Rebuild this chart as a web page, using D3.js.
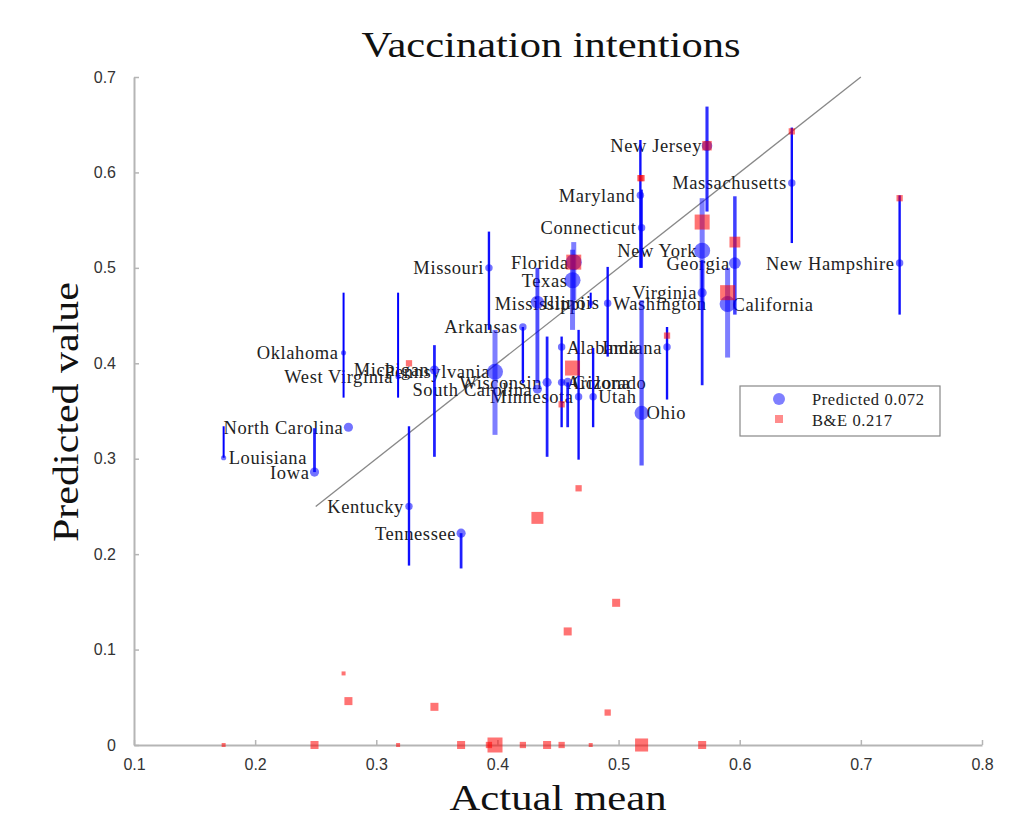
<!DOCTYPE html>
<html>
<head>
<meta charset="utf-8">
<script src="https://cdn.jsdelivr.net/npm/d3@7"></script>
<style>
  body { margin: 0; background: #fff; }
  .tick text { font-family: "Liberation Sans", Arial, sans-serif; font-size: 16px; fill: #333; }
  .lab { font-family: "Liberation Serif", serif; font-size: 18.5px; letter-spacing: 0.6px; fill: #222; }
</style>
</head>
<body>
<div id="chart"></div>
<script>
// state data
var states = ["New Jersey", "Massachusetts", "Maryland", "Connecticut", "New York", "Virginia",
  "Georgia", "California", "New Hampshire", "Florida", "Texas", "Missouri", "Arkansas",
  "Illinois", "Mississippi", "Washington", "Indiana", "Alabama", "Ohio", "Utah", "Minnesota",
  "Arizona", "Colorado", "Wisconsin", "South Carolina", "Pennsylvania", "Michigan",
  "West Virginia", "Kentucky", "Tennessee", "Oklahoma", "Louisiana", "North Carolina", "Iowa", "Oregon"];
var actual = [0.573, 0.643, 0.518, 0.519, 0.569, 0.569, 0.596, 0.590, 0.732, 0.463, 0.462, 0.393, 0.421,
  0.433, 0.477, 0.491, 0.540, 0.453, 0.519, 0.479, 0.467, 0.453, 0.458, 0.441, 0.433, 0.398, 0.348,
  0.318, 0.327, 0.370, 0.273, 0.174, 0.277, 0.249, 0.498];
var predicted = [0.628, 0.589, 0.576, 0.542, 0.518, 0.474, 0.505, 0.462, 0.505, 0.506, 0.487, 0.500, 0.438,
  0.464, 0.463, 0.463, 0.417, 0.417, 0.348, 0.365, 0.365, 0.380, 0.380, 0.380, 0.373, 0.391, 0.393,
  0.386, 0.250, 0.222, 0.411, 0.301, 0.333, 0.286, null];
var predLow = [0.559, 0.526, 0.500, 0.500, 0.456, 0.377, 0.451, 0.406, 0.451, 0.466, 0.435, 0.435, 0.379,
  0.379, 0.458, 0.407, 0.362, 0.333, 0.293, 0.333, 0.299, null, 0.333, 0.302, null, 0.325, 0.302,
  0.364, 0.188, 0.185, 0.364, 0.301, null, 0.286, null];
var predHigh = [0.669, 0.647, 0.634, 0.582, 0.573, 0.508, 0.575, 0.500, 0.576, 0.527, 0.519, 0.538, 0.438,
  0.500, 0.474, 0.501, 0.438, 0.428, 0.466, 0.416, 0.435, null, 0.380, 0.428, null, 0.435, 0.419,
  0.474, 0.334, 0.222, 0.474, 0.334, null, 0.332, null];
var be = [0.628, 0.643, 0.594, 0.594, 0.548, 0, 0.527, 0.474, 0.573, 0.506, 0.395, 0, 0,
  0.238, 0, 0.034, 0.429, 0, 0, null, 0.269, 0.357, 0.119, 0, null, 0, 0.040,
  0, 0.400, 0, 0.075, 0, 0.046, 0, 0.149];
var weight = [4, 2, 2, 2, 9, 3, 5, 9, 2, 9, 9, 2, 2, 6, 1, 2, 2, 2, 7, 2, 2, 2, 3, 3, 3, 9, 3,
  1, 2, 3, 1, 1, 3, 3, 3];

var xTicks = [0.1, 0.2, 0.3, 0.4, 0.5, 0.6, 0.7, 0.8];
var yTicks = [0, 0.1, 0.2, 0.3, 0.4, 0.5, 0.6, 0.7];
var legendLabels = ["Predicted 0.072", "B&E 0.217"];
var rightLabels = ["California", "Washington", "Illinois", "Alabama", "Arizona", "Colorado", "Ohio", "Utah", "Louisiana"];

var data = states.map((s, i) => ({
  state: s, actual: actual[i], pred: predicted[i], lo: predLow[i], hi: predHigh[i], be: be[i], w: weight[i]
}));

var svgWidth = 1022, svgHeight = 817;
var margin = { top: 77, right: 40, bottom: 72, left: 134 };
var width = svgWidth - margin.left - margin.right;
var height = svgHeight - margin.top - margin.bottom;

var svg = d3.select("#chart").append("svg")
  .attr("width", svgWidth)
  .attr("height", svgHeight);

var g = svg.append("g").attr("transform", `translate(${margin.left}, ${margin.top})`);

var x = d3.scaleLinear().domain([0.1, 0.8]).range([0, width]);
var y = d3.scaleLinear().domain([0, 0.7]).range([height, 0]);
var rScale = d3.scaleSqrt().domain([1, 9]).range([2.6, 8]);
var sqScale = d3.scaleSqrt().domain([1, 9]).range([4, 15]);
var wScale = d3.scaleLinear().domain([1, 9]).range([2, 5]);
var oScale = d3.scaleLinear().domain([1, 9]).range([1, 0.5]);

// axes
var xAxis = g.append("g")
  .attr("transform", `translate(0, ${height})`)
  .call(d3.axisBottom(x).tickValues(xTicks).tickFormat(d3.format("~g")).tickSizeInner(-5).tickSizeOuter(0).tickPadding(14));
var yAxis = g.append("g")
  .call(d3.axisLeft(y).tickValues(yTicks).tickFormat(d3.format("~g")).tickSizeInner(-5).tickSizeOuter(0).tickPadding(18));
[xAxis, yAxis].forEach(a => {
  a.select(".domain").attr("stroke", "#b5b5b5").attr("stroke-width", 2);
  a.selectAll(".tick line").attr("stroke", "#b5b5b5").attr("stroke-width", 1.5);
});

// identity line
g.append("line")
  .attr("x1", x(0.25)).attr("y1", y(0.25))
  .attr("x2", x(0.7)).attr("y2", y(0.7))
  .attr("stroke", "#888").attr("stroke-width", 1.3);

var withPred = data.filter(d => d.pred !== null);

// state labels
g.selectAll(".lab")
  .data(withPred)
  .enter()
  .append("text")
  .attr("class", "lab")
  .attr("x", d => rightLabels.includes(d.state) ? x(d.actual) + 5 : x(d.actual) - 5)
  .attr("y", d => y(d.pred))
  .attr("dy", "0.35em")
  .attr("text-anchor", d => rightLabels.includes(d.state) ? "start" : "end")
  .text(d => d.state);

// error bars
g.selectAll(".err")
  .data(withPred.filter(d => d.lo !== null))
  .enter()
  .append("line")
  .attr("x1", d => x(d.actual)).attr("x2", d => x(d.actual))
  .attr("y1", d => y(d.lo)).attr("y2", d => y(d.hi))
  .attr("stroke", "#0000ff")
  .attr("stroke-width", d => wScale(d.w))
  .attr("opacity", d => oScale(d.w));

// predicted points
g.selectAll(".pt")
  .data(withPred)
  .enter()
  .append("circle")
  .attr("cx", d => x(d.actual))
  .attr("cy", d => y(d.pred))
  .attr("r", d => rScale(d.w))
  .attr("fill", "#0000ff")
  .attr("opacity", 0.55);

// B&E squares
g.selectAll(".sq")
  .data(data.filter(d => d.be !== null))
  .enter()
  .append("rect")
  .attr("x", d => x(d.actual) - sqScale(d.w) / 2)
  .attr("y", d => y(d.be) - sqScale(d.w) / 2)
  .attr("width", d => sqScale(d.w))
  .attr("height", d => sqScale(d.w))
  .attr("fill", "#ff0000")
  .attr("opacity", 0.55);

// title and axis labels
function bigText(txt, len) {
  return svg.append("text")
    .attr("text-anchor", "middle")
    .attr("textLength", len)
    .attr("lengthAdjust", "spacingAndGlyphs")
    .style("font-family", "Liberation Serif, serif")
    .style("font-size", "36px")
    .attr("fill", "#111")
    .text(txt);
}
bigText("Vaccination intentions", 379).attr("x", 551).attr("y", 57);
bigText("Actual mean", 217).attr("x", 558).attr("y", 810);
bigText("Predicted value", 260).attr("transform", "translate(78, 412) rotate(-90)");

// legend
var leg = svg.append("g").attr("transform", "translate(740, 386)");
leg.append("rect")
  .attr("width", 200).attr("height", 50)
  .attr("fill", "#fff").attr("stroke", "#888").attr("stroke-width", 1.2);
leg.append("circle").attr("cx", 39).attr("cy", 13).attr("r", 6)
  .attr("fill", "#0000ff").attr("opacity", 0.5);
leg.append("rect").attr("x", 35).attr("y", 29).attr("width", 8).attr("height", 8)
  .attr("fill", "#ff0000").attr("opacity", 0.45);
leg.selectAll(".legt")
  .data(legendLabels)
  .enter()
  .append("text")
  .attr("class", "lab")
  .style("font-size", "16.5px")
  .attr("x", 72)
  .attr("y", (d, i) => 13 + i * 21)
  .attr("dy", "0.35em")
  .text(d => d);
</script>
</body>
</html>
